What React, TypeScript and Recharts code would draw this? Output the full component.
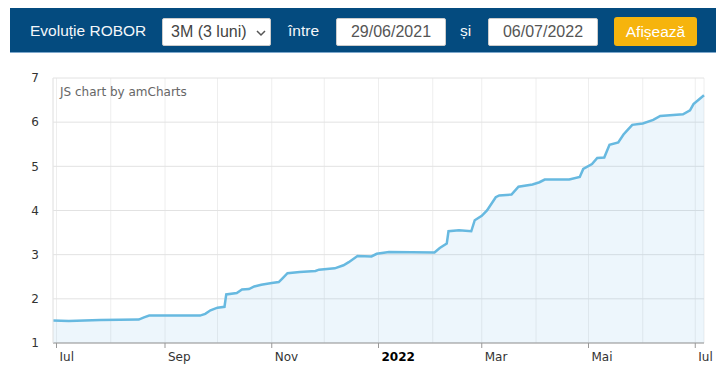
import React from 'react';
import { AreaChart, Area, XAxis, YAxis, CartesianGrid } from 'recharts';

// ROBOR 3M, 29/06/2021 – 06/07/2022
const dates = [
  '2021-06-29', '2021-07-08', '2021-07-26', '2021-08-17', '2021-08-20', '2021-08-23',
  '2021-09-21', '2021-09-24', '2021-09-27', '2021-10-01', '2021-10-05', '2021-10-06',
  '2021-10-12', '2021-10-15', '2021-10-19', '2021-10-22', '2021-10-26', '2021-11-01',
  '2021-11-05', '2021-11-07', '2021-11-10', '2021-11-17', '2021-11-26', '2021-11-28',
  '2021-12-07', '2021-12-12', '2021-12-15', '2021-12-20', '2021-12-28', '2021-12-31',
  '2022-01-05', '2022-01-07', '2022-02-02', '2022-02-05', '2022-02-09', '2022-02-10',
  '2022-02-16', '2022-02-23', '2022-02-25', '2022-03-01', '2022-03-04', '2022-03-09',
  '2022-03-11', '2022-03-18', '2022-03-22', '2022-03-30', '2022-04-03', '2022-04-06',
  '2022-04-20', '2022-04-26', '2022-04-28', '2022-05-03', '2022-05-06', '2022-05-10',
  '2022-05-13', '2022-05-18', '2022-05-21', '2022-05-23', '2022-05-26', '2022-06-01',
  '2022-06-07', '2022-06-11', '2022-06-24', '2022-06-28', '2022-06-30', '2022-07-06',
];
const robor = [
  1.51, 1.50, 1.52, 1.53, 1.58, 1.62,
  1.62, 1.66, 1.74, 1.80, 1.82, 2.10,
  2.13, 2.21, 2.22, 2.28, 2.32, 2.36,
  2.38, 2.46, 2.58, 2.61, 2.63, 2.66,
  2.69, 2.76, 2.83, 2.97, 2.96, 3.02,
  3.05, 3.06, 3.05, 3.15, 3.25, 3.53,
  3.55, 3.53, 3.78, 3.88, 4.0, 4.30,
  4.34, 4.36, 4.54, 4.59, 4.64, 4.70,
  4.70, 4.76, 4.94, 5.05, 5.19, 5.20,
  5.49, 5.54, 5.72, 5.81, 5.94, 5.97,
  6.05, 6.14, 6.18, 6.27, 6.41, 6.61,
];

// luni pe axa X; etichetă doar din două în două
const monthTicks = [
  '2021-07-01', '2021-08-01', '2021-09-01', '2021-10-01', '2021-11-01', '2021-12-01',
  '2022-01-01', '2022-02-01', '2022-03-01', '2022-04-01', '2022-05-01', '2022-06-01',
  '2022-07-01',
];
const monthLabels = ['Iul', '', 'Sep', '', 'Nov', '', '2022', '', 'Mar', '', 'Mai', '', 'Iul'];
const yTicks = [1, 2, 3, 4, 5, 6, 7];

const toTs = (d: string) => {
  const [y, m, day] = d.split('-').map(Number);
  return Date.UTC(y, m - 1, day);
};

const chartData = dates.map((d, i) => ({ t: toTs(d), v: robor[i] }));
const tickTs = monthTicks.map(toTs);

const axisFont = '"DejaVu Sans", Verdana, sans-serif';

function MonthTick(props: any) {
  const { x, y, payload } = props;
  const idx = tickTs.indexOf(payload.value);
  const label = monthLabels[idx];
  if (!label) return null;
  const isYear = label === '2022';
  return (
    <g>
      <line x1={x} y1={y} x2={x} y2={y + 5} stroke="#999" />
      <text
        x={x + 3}
        y={y + 18}
        fontSize={12}
        fontFamily={axisFont}
        fontWeight={isYear ? 'bold' : 'normal'}
        fill={isYear ? '#000' : '#333'}
      >
        {label}
      </text>
    </g>
  );
}

const inputStyle: React.CSSProperties = {
  position: 'absolute',
  top: 18,
  height: 28,
  background: '#fff',
  border: '1px solid #ccc',
  borderRadius: 2,
  boxSizing: 'border-box',
  color: '#555',
  fontSize: 16,
  lineHeight: '26px',
  textAlign: 'center',
};

export default function App() {
  return (
    <div
      style={{
        position: 'absolute',
        top: 0,
        left: 0,
        width: 726,
        height: 375,
        background: '#fff',
        fontFamily: '"Liberation Sans", Arial, sans-serif',
        overflow: 'hidden',
      }}
    >
      {/* bara de filtre */}
      <div
        style={{
          position: 'absolute',
          left: 10,
          top: 8,
          width: 706,
          height: 45,
          background: '#044b7f',
          borderBottom: '1px solid #7ea8cc',
          boxSizing: 'border-box',
        }}
      />
      <div style={{ position: 'absolute', left: 30, top: 22, color: '#f4f7fa', fontSize: 15.5 }}>
        Evoluție ROBOR
      </div>
      <div style={{ ...inputStyle, left: 162, width: 109, textAlign: 'left', paddingLeft: 8, color: '#444' }}>
        3M (3 luni)
        <svg width={10} height={7} style={{ position: 'absolute', left: 93, top: 11 }}>
          <polyline points="1,1 5,5 9,1" fill="none" stroke="#555" strokeWidth={1.5} />
        </svg>
      </div>
      <div style={{ position: 'absolute', left: 288, top: 22, color: '#f4f7fa', fontSize: 15.5 }}>între</div>
      <div style={{ ...inputStyle, left: 336, width: 110 }}>29/06/2021</div>
      <div style={{ position: 'absolute', left: 460, top: 22, color: '#f4f7fa', fontSize: 15.5 }}>și</div>
      <div style={{ ...inputStyle, left: 488, width: 110 }}>06/07/2022</div>
      <div
        style={{
          position: 'absolute',
          left: 614,
          top: 17,
          width: 83,
          height: 29,
          background: '#f6b40d',
          borderRadius: 3,
          color: '#fff',
          fontSize: 15.5,
          lineHeight: '29px',
          textAlign: 'center',
        }}
      >
        Afișează
      </div>

      {/* graficul */}
      <div style={{ position: 'absolute', left: 0, top: 60 }}>
        <AreaChart
          width={726}
          height={315}
          data={chartData}
          margin={{ top: 18, right: 22, bottom: 2, left: 13 }}
        >
          {/* orizontale mai pronunțate decât verticalele */}
          <CartesianGrid stroke="#eeeeee" horizontal={false} />
          <CartesianGrid stroke="#e2e2e2" vertical={false} />
          <XAxis
            dataKey="t"
            type="number"
            domain={[toTs('2021-06-29'), toTs('2022-07-06')]}
            ticks={tickTs}
            interval={0}
            height={30}
            tickSize={0}
            tickMargin={0}
            tickLine={false}
            axisLine={{ stroke: '#999' }}
            tick={<MonthTick />}
          />
          <YAxis
            domain={[1, 7]}
            ticks={yTicks}
            width={40}
            tickSize={0}
            tickMargin={14}
            tickLine={false}
            axisLine={{ stroke: '#e6e6e6' }}
            tick={{ fontSize: 12, fill: '#333', fontFamily: axisFont }}
          />
          <Area
            type="linear"
            dataKey="v"
            stroke="#67b9e0"
            strokeWidth={2.5}
            fill="#6ab4e8"
            fillOpacity={0.12}
            dot={false}
            activeDot={false}
            isAnimationActive={false}
          />
        </AreaChart>
      </div>
      <div
        style={{
          position: 'absolute',
          left: 60,
          top: 85,
          fontSize: 12,
          color: '#666',
          fontFamily: axisFont,
        }}
      >
        JS chart by amCharts
      </div>
    </div>
  );
}
